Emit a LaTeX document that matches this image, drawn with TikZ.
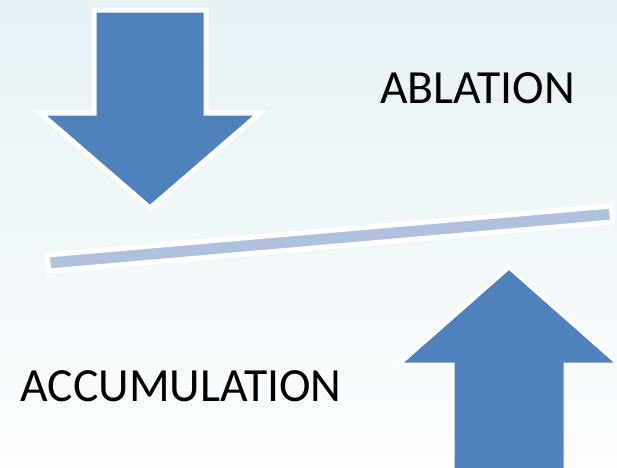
\documentclass[tikz,border=0pt]{standalone}
\usepackage{fontspec}
\setmainfont{Carlito}
\definecolor{arrowblue}{HTML}{4F81BD}
\definecolor{barblue}{HTML}{B0C1DD}
\definecolor{bgtop}{HTML}{E6F2F6}
\definecolor{bgbot}{HTML}{FBFDFE}
\begin{document}
\begin{tikzpicture}[x=1pt,y=-1pt,
  bigarrow/.style={fill=arrowblue,draw=white,line width=5pt,line join=miter},
  uparrow/.style={fill=arrowblue,draw=white,line width=3pt,line join=miter},
  barshape/.style={fill=barblue,draw=white,line width=5pt,line join=miter},
  label/.style={font=\fontsize{47.6}{52}\selectfont,anchor=base,inner sep=0pt,text=black}]
\useasboundingbox (0,0) rectangle (617,467);
\shade[top color=bgtop,bottom color=bgbot] (0,0) rectangle (617,467);
% down arrow
\draw[bigarrow] (94,10) -- (206,10) -- (206,113) -- (260,113) -- (150,208) -- (40,113) -- (94,113) -- cycle;
% bar
\draw[barshape] (47.3,255) -- (611.3,206) -- (612.7,222) -- (48.7,271) -- cycle;
% up arrow
\draw[uparrow] (509,268) -- (620,366) -- (620,364) -- (565,364) -- (565,470) -- (453,470) -- (453,364) -- (400,364) -- cycle;
\node[label] (abl) at (477.5,103) {ABLATION};
\node[label] (acc) at (181,401) {ACCUMULATION};
\end{tikzpicture}
\end{document}
